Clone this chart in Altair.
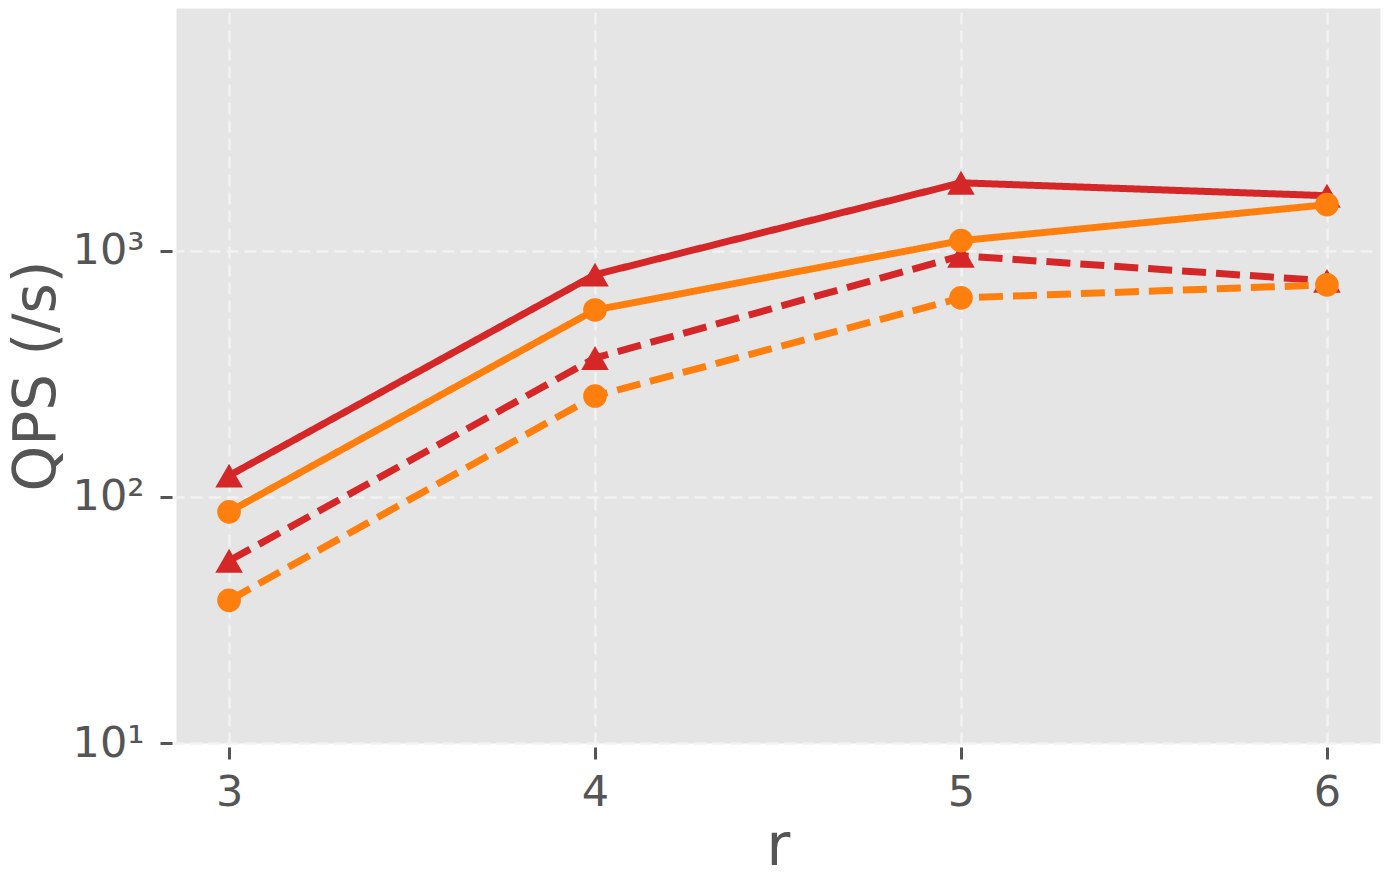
import altair as alt
import pandas as pd

r_values = [3, 4, 5, 6]
red_solid = [122, 800, 1890, 1675]
orange_solid = [87, 575, 1100, 1540]
red_dashed = [55, 367, 955, 755]
orange_dashed = [38, 257, 644, 727]

series_names = ["red_solid", "red_dashed", "orange_solid", "orange_dashed"]
series_values = [red_solid, red_dashed, orange_solid, orange_dashed]
series_colors = ["#d62728", "#d62728", "#ff7f0e", "#ff7f0e"]
series_dash = [[1, 0], [24, 10], [1, 0], [24, 10]]
series_shape = ["triangle-up", "triangle-up", "circle", "circle"]
series_size = [760, 760, 560, 560]

rows = []
for name, vals in zip(series_names, series_values):
    for rv, v in zip(r_values, vals):
        rows.append({"r": rv, "qps": v, "series": name})
df = pd.DataFrame(rows)

FONT = "DejaVu Sans"
TXT = "#555555"

x_enc = alt.X(
    "r:Q",
    scale=alt.Scale(domain=[2.855, 6.145], nice=False, zero=False),
    axis=alt.Axis(values=r_values, format="d", title="r"),
)
y_enc = alt.Y(
    "qps:Q",
    scale=alt.Scale(type="log", domain=[10, 9700], nice=False),
    axis=alt.Axis(
        values=[10, 100, 1000],
        labelExpr="datum.value == 10 ? '10¹' : datum.value == 100 ? '10²' : datum.value == 1000 ? '10³' : '10⁴'",
        title="QPS (/s)",
    ),
)

layers = []
for name, col, dash, shape, size in zip(series_names, series_colors, series_dash, series_shape, series_size):
    base = alt.Chart(df).transform_filter(alt.datum.series == name)
    line = base.mark_line(color=col, strokeWidth=7, strokeDash=dash).encode(x=x_enc, y=y_enc)
    pts = base.mark_point(shape=shape, size=size, filled=True, opacity=1, color=col).encode(x=x_enc, y=y_enc)
    layers += [line, pts]

chart = (
    alt.layer(*layers)
    .properties(
        width=1204,
        height=735,
        autosize=alt.AutoSizeParams(type="none"),
        padding={"left": 176, "top": 8, "right": 9, "bottom": 143},
        background="white",
    )
    .configure_view(fill="#E5E5E5", stroke="transparent")
    .configure_axis(
        domain=False,
        grid=True,
        gridColor="#F2F2F2",
        gridDash=[12, 6],
        gridWidth=2.5,
        tickColor=TXT,
        tickSize=12,
        tickWidth=3,
        offset=4,
        labelFont=FONT,
        labelFontSize=43,
        labelColor=TXT,
        titleFont=FONT,
        titleFontSize=58,
        titleFontWeight="normal",
        titleColor=TXT,
    )
    .configure_axisX(labelPadding=12, titlePadding=4)
    .configure_axisY(labelPadding=16, titlePadding=6)
)

chart.save("out.html", embed_options={"renderer": "svg", "actions": False})
